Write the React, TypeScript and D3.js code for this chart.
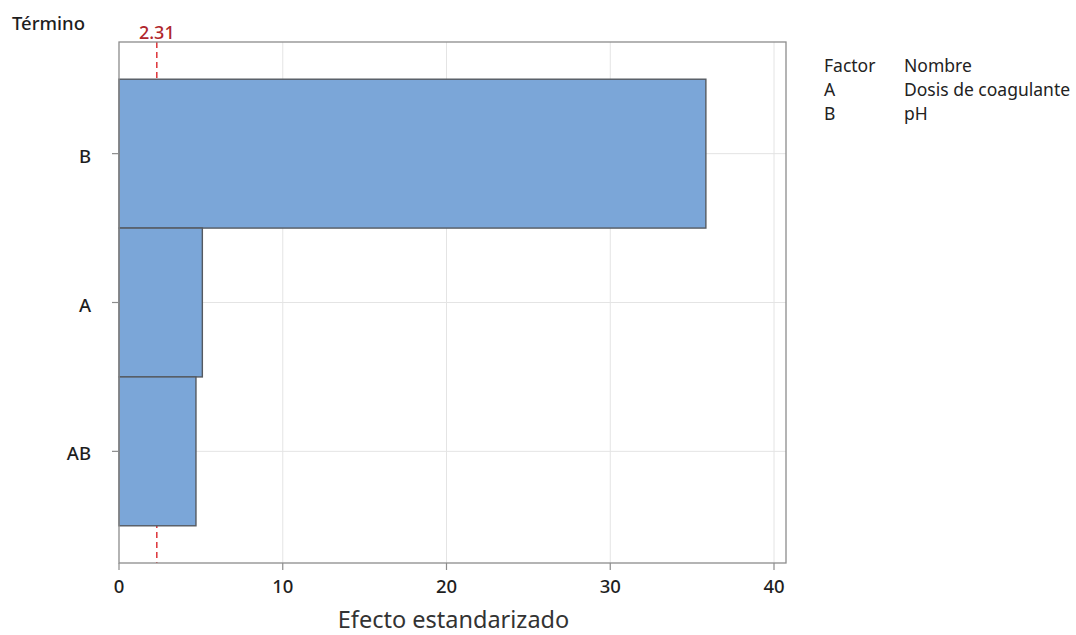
import React from "react";
import * as d3 from "d3";

const terms = ["B", "A", "AB"];
const effects = [35.84, 5.09, 4.7];
const xTicks = [0, 10, 20, 30, 40];
const refValue = 2.31;
const legendFactors = ["A", "B"];
const legendNames = ["Dosis de coagulante", "pH"];

const W = 1076;
const H = 635;
const plot = { left: 119, right: 786, top: 42, bottom: 563 };
const FONT = "'Noto Sans', 'Open Sans', sans-serif";

export default function App() {
  const x = d3.scaleLinear().domain([0, 40]).range([119, 774]);
  const y = d3
    .scaleBand<string>()
    .domain(terms)
    .range([plot.top, plot.bottom])
    .paddingInner(0)
    .paddingOuter(0.25);

  return (
    <svg
      width={W}
      height={H}
      style={{ position: "absolute", left: 0, top: 0, background: "#fff" }}
      fontFamily={FONT}
    >
      {/* gridlines */}
      {xTicks
        .filter((t) => t > 0)
        .map((t) => (
          <line
            key={"gx" + t}
            x1={x(t)}
            x2={x(t)}
            y1={plot.top}
            y2={plot.bottom}
            stroke="#e4e4e4"
            strokeWidth={1}
          />
        ))}
      {terms.map((t) => (
        <line
          key={"gy" + t}
          x1={plot.left}
          x2={plot.right}
          y1={(y(t) as number) + y.bandwidth() / 2}
          y2={(y(t) as number) + y.bandwidth() / 2}
          stroke="#e4e4e4"
          strokeWidth={1}
        />
      ))}
      {/* reference line */}
      <line
        x1={x(refValue)}
        x2={x(refValue)}
        y1={plot.top}
        y2={plot.bottom}
        stroke="#d7141a"
        strokeWidth={1.3}
        strokeDasharray="6,4"
      />
      {/* bars */}
      {terms.map((t, i) => (
        <rect
          key={"b" + t}
          x={x(0)}
          y={y(t) as number}
          width={x(effects[i]) - x(0)}
          height={y.bandwidth()}
          fill="#7ba6d8"
          stroke="#555a60"
          strokeWidth={1.4}
        />
      ))}
      {/* frame */}
      <rect
        x={plot.left}
        y={plot.top}
        width={plot.right - plot.left}
        height={plot.bottom - plot.top}
        fill="none"
        stroke="#8c8c8c"
        strokeWidth={1.3}
      />
      {/* x ticks */}
      {xTicks.map((t) => (
        <g key={"xt" + t}>
          <line x1={x(t)} x2={x(t)} y1={plot.bottom} y2={plot.bottom + 7} stroke="#8c8c8c" strokeWidth={1.2} />
          <text x={x(t)} y={593} textAnchor="middle" fontSize={18.5} fontWeight={500} fill="#1e1e1e">
            {t}
          </text>
        </g>
      ))}
      {/* y ticks */}
      {terms.map((t) => {
        const cy = (y(t) as number) + y.bandwidth() / 2;
        return (
          <g key={"yt" + t}>
            <line x1={plot.left - 7} x2={plot.left} y1={cy} y2={cy} stroke="#8c8c8c" strokeWidth={1.2} />
            <text x={91} y={cy + 9} textAnchor="end" fontSize={18.5} fontWeight={500} fill="#1e1e1e">
              {t}
            </text>
          </g>
        );
      })}
      {/* titles */}
      <text x={12} y={30} fontSize={18.5} fontWeight={500} fill="#1e1e1e">
        Término
      </text>
      <text x={x(refValue)} y={39} textAnchor="middle" fontSize={18} fontWeight={500} fill="#b0262c">
        {refValue.toFixed(2)}
      </text>
      <text x={(plot.left + 774) / 2 + 7} y={628} textAnchor="middle" fontSize={23.5} fill="#333">
        Efecto estandarizado
      </text>
      {/* legend */}
      <text x={824} y={72} fontSize={17.5} fill="#222">Factor</text>
      <text x={904} y={72} fontSize={17.5} fill="#222">Nombre</text>
      {legendFactors.map((f, i) => (
        <g key={"lg" + f}>
          <text x={824} y={96 + i * 24} fontSize={17.5} fill="#222">{f}</text>
          <text x={904} y={96 + i * 24} fontSize={17.5} fill="#222">{legendNames[i]}</text>
        </g>
      ))}
    </svg>
  );
}
